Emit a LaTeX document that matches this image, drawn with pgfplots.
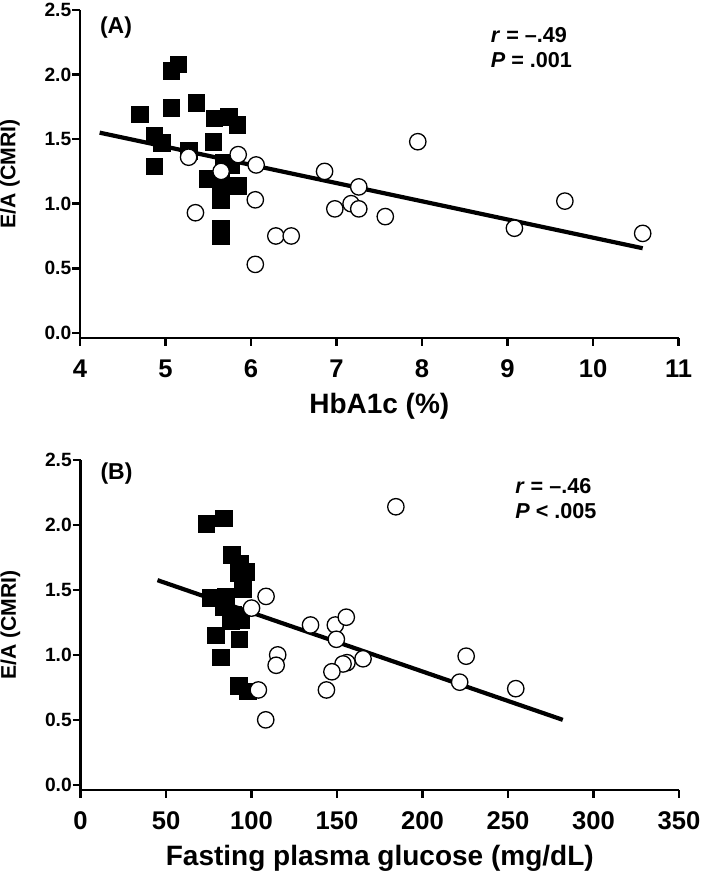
\documentclass[border=0pt]{standalone}
\usepackage{fontspec}
\setmainfont{Liberation Sans}
\usepackage{pgfplots}
\pgfplotsset{compat=1.18}

\pgfplotstableread{
x y
4.70 1.69
5.07 2.03
5.15 2.08
5.07 1.74
5.36 1.78
4.87 1.53
4.96 1.47
4.87 1.29
5.57 1.66
5.74 1.67
5.84 1.61
5.56 1.48
5.68 1.32
5.77 1.30
5.49 1.19
5.65 1.17
5.85 1.14
5.65 1.03
5.65 0.81
5.65 0.75
5.27 1.41
}\sqA

\pgfplotstableread{
x y
5.27 1.36
5.65 1.25
5.85 1.38
6.06 1.30
5.35 0.93
6.05 1.03
6.29 0.75
6.47 0.75
6.05 0.53
6.86 1.25
7.26 1.13
7.17 1.00
7.26 0.96
6.98 0.96
7.57 0.90
7.95 1.48
9.67 1.02
9.08 0.81
10.58 0.77
}\ciA

\pgfplotstableread{
x y
4.23 1.55
10.58 0.655
}\lnA

\pgfplotstableread{
x y
73.5 2.01
84.0 2.05
88.5 1.77
93.5 1.70
96.8 1.64
92.5 1.63
95.0 1.51
76.3 1.44
85.0 1.45
84.0 1.37
89.0 1.31
94.0 1.27
88.0 1.26
79.2 1.15
93.0 1.12
82.2 0.98
92.6 0.76
97.8 0.72
}\sqB

\pgfplotstableread{
x y
108.5 1.45
100.0 1.36
134.5 1.23
149.0 1.23
155.4 1.29
149.6 1.12
115.3 1.00
114.4 0.92
165.2 0.97
155.8 0.94
153.5 0.93
147.0 0.87
143.8 0.73
104.0 0.73
108.3 0.50
225.5 0.99
221.7 0.79
254.5 0.74
184.4 2.14
}\ciB

\pgfplotstableread{
x y
45 1.575
282 0.50
}\lnB

\pgfplotsset{
  myaxis/.style={
    scale only axis,
    width=299.3pt,
    axis x line*=bottom,
    axis y line*=left,
    axis line style={line width=1.3pt, black},
    tick align=outside,
    major tick length=3.8pt,
    major tick style={line width=1.3pt, black},
    ymin=-0.04, ymax=2.5,
    ytick={0,0.5,1,1.5,2,2.5},
    yticklabels={0.0,0.5,1.0,1.5,2.0,2.5},
    yticklabel style={font=\bfseries\fontsize{9.6}{11}\selectfont, inner sep=0pt, anchor=east, xshift=-0.4pt},
    xticklabel style={font=\bfseries\fontsize{12.8}{14}\selectfont, inner sep=0pt, anchor=north, yshift=-7pt},
    every axis y label/.style={at={(axis description cs:-0.117,0.5)}, rotate=90, anchor=center, font=\bfseries\fontsize{10.6}{12}\selectfont},
    every axis x label/.style={at={(axis description cs:0.5,0)}, anchor=center, yshift=-34pt, font=\bfseries\fontsize{14}{16}\selectfont},
    clip=false,
    ylabel={E/A (CMRI)},
  },
  sqmark/.style={only marks, mark=square*, mark size=4.15pt, mark options={fill=black, draw=black, line width=0.4pt}},
  cimark/.style={only marks, mark=*, mark size=4.1pt, mark options={fill=white, draw=black, line width=0.65pt}},
  regline/.style={no marks, line width=2.1pt, black},
}

\begin{document}
\begin{tikzpicture}[x=1pt,y=1pt]
\begin{axis}[myaxis,
  at={(40pt,267pt)}, anchor=south west,
  height=164pt,
  xmin=4, xmax=11,
  xtick={4,5,6,7,8,9,10,11},
  xticklabels={4,5,6,7,8,9,10,11},
  xlabel={HbA1c (\%)},
]
\addplot[sqmark] table[x=x,y=y] {\sqA};
\addplot[cimark] table[x=x,y=y] {\ciA};
\addplot[regline] table[x=x,y=y] {\lnA};
\node[anchor=north west, inner sep=0pt, font=\bfseries\fontsize{11.5}{13}\selectfont] at (axis cs:4.23,2.45) {(A)};
\node[anchor=north west, inner sep=0pt, align=left, font=\bfseries\fontsize{10.8}{12.5}\selectfont] at (axis cs:8.80,2.37) {\textit{r} = –.49\\\textit{P} = .001};
\end{axis}

\begin{axis}[myaxis,
  at={(40.25pt,41pt)}, anchor=south west,
  height=165pt,
  xmin=0, xmax=350,
  xtick={0,50,100,150,200,250,300,350},
  xticklabels={0,50,100,150,200,250,300,350},
  xlabel={Fasting plasma glucose (mg/dL)},
]
\addplot[sqmark] table[x=x,y=y] {\sqB};
\addplot[cimark] table[x=x,y=y] {\ciB};
\addplot[regline] table[x=x,y=y] {\lnB};
\node[anchor=north west, inner sep=0pt, font=\bfseries\fontsize{11.5}{13}\selectfont] at (axis cs:11.5,2.48) {(B)};
\node[anchor=north west, inner sep=0pt, align=left, font=\bfseries\fontsize{10.8}{12.5}\selectfont] at (axis cs:254,2.36) {\textit{r} = –.46\\\textit{P} < .005};
\end{axis}
\pgfresetboundingbox
\path[use as bounding box] (0,0) rectangle (354.5,436);
\end{tikzpicture}
\end{document}
